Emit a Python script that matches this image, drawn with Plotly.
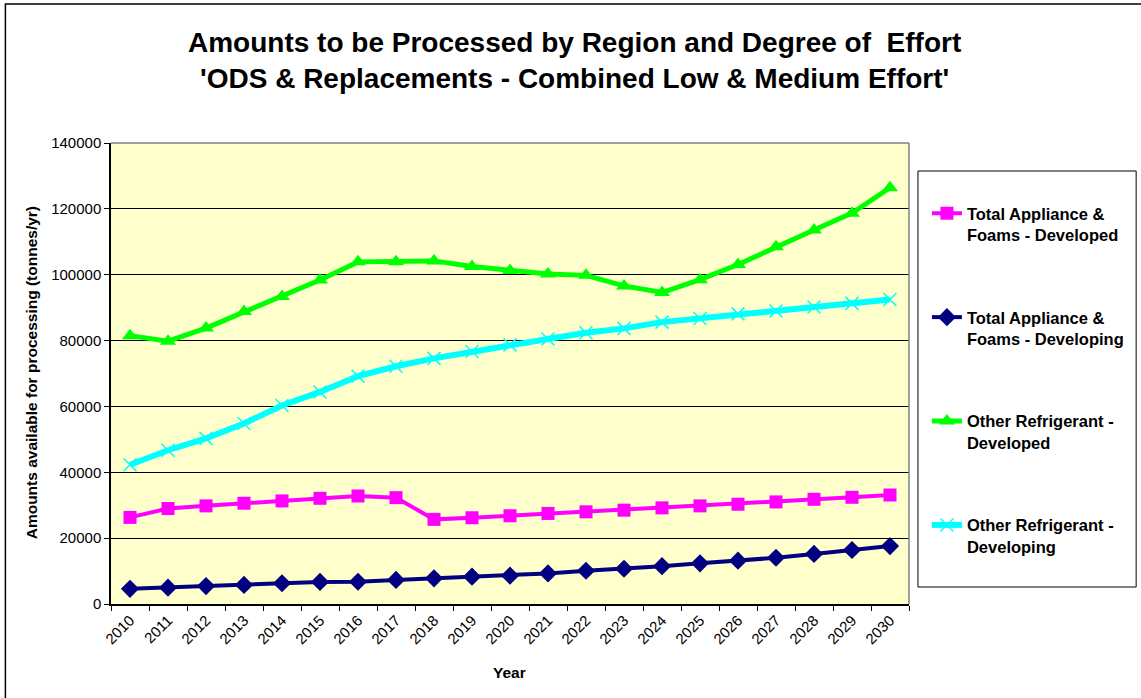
import plotly.graph_objects as go

years = [str(y) for y in range(2010, 2031)]

appliance_developed = [26300, 29000, 29800, 30600, 31300, 32100, 32800, 32300, 25700, 26200,
                       26800, 27500, 28000, 28500, 29200, 29800, 30300, 31000, 31800, 32400, 33100]
appliance_developing = [4600, 4950, 5450, 5800, 6300, 6700, 6750, 7300, 7800, 8300,
                        8600, 9300, 10100, 10700, 11500, 12350, 13150, 14050, 15200, 16400, 17600]
refrig_developed = [81500, 79800, 83800, 88800, 93400, 98400, 103900, 103900, 104200, 102500,
                    101300, 100200, 99800, 96600, 94600, 98500, 103100, 108500, 113600, 118700, 126400]
refrig_developing = [42300, 46700, 50300, 54800, 60300, 64400, 69200, 72200, 74600, 76700,
                     78700, 80500, 82400, 83700, 85600, 86700, 88100, 89000, 90200, 91300, 92500]

names = ["<b>Total Appliance &<br>Foams - Developed</b>",
         "<b>Total Appliance &<br>Foams - Developing</b>",
         "<b>Other Refrigerant -<br>Developed</b>",
         "<b>Other Refrigerant -<br>Developing</b>"]

FONT = "Arial, Liberation Sans, sans-serif"

L, R, T, B = 111, 912, 143, 604
W, H = 1141, 698
PW, PH = R - L, B - T

def px(x):
    return (x - L) / PW

def py(y):
    return (B - y) / PH

fig = go.Figure()
fig.add_trace(go.Scatter(x=years, y=appliance_developed, name=names[0], mode="lines+markers",
                         legendgroup="a",
                         line=dict(color="#FF00FF", width=4),
                         marker=dict(symbol="square", size=13, color="#FF00FF")))
fig.add_trace(go.Scatter(x=years, y=appliance_developing, name=names[1], mode="lines+markers",
                         legendgroup="b",
                         line=dict(color="#000080", width=4),
                         marker=dict(symbol="diamond", size=14, color="#000080")))
fig.add_trace(go.Scatter(x=years, y=refrig_developed, name=names[2], mode="lines+markers",
                         legendgroup="c",
                         line=dict(color="#00FF00", width=5),
                         marker=dict(symbol="triangle-up", size=14, color="#00FF00")))
fig.add_trace(go.Scatter(x=years, y=refrig_developing, name=names[3], mode="lines+markers",
                         legendgroup="d",
                         line=dict(color="#00FFFF", width=6),
                         marker=dict(symbol="x-thin-open", size=13, color="#00FFFF",
                                     line=dict(color="#00FFFF", width=1.5))))

shapes = [
    dict(type="rect", xref="paper", yref="paper", x0=px(5), x1=px(1160), y0=py(4), y1=py(720),
         line=dict(color="#000000", width=1.5), fillcolor="rgba(0,0,0,0)", layer="above"),
    dict(type="line", xref="paper", yref="paper", x0=0, x1=1, y0=1, y1=1,
         line=dict(color="#808080", width=1.5), layer="above"),
    dict(type="line", xref="paper", yref="paper", x0=1, x1=1, y0=0, y1=1,
         line=dict(color="#808080", width=1.5), layer="above"),
    dict(type="rect", xref="paper", yref="paper", x0=px(921), x1=px(1140), y0=py(587), y1=py(171),
         line=dict(color="#000000", width=1), fillcolor="#FFFFFF", layer="below"),
]

annotations = [
    dict(text="<b>Amounts to be Processed by Region and Degree of  Effort<br>'ODS & Replacements - Combined Low & Medium Effort'</b>",
         xref="paper", yref="paper", x=px(576), y=py(60), xanchor="center", yanchor="middle",
         showarrow=False, font=dict(family=FONT, size=28, color="#000000")),
    dict(text="<b>Year</b>", xref="paper", yref="paper", x=px(511), y=py(672),
         xanchor="center", yanchor="middle", showarrow=False,
         font=dict(family=FONT, size=15.5, color="#000000")),
    dict(text="<b>Amounts available for processing (tonnes/yr)</b>", xref="paper", yref="paper",
         x=px(31), y=py(373), xanchor="center", yanchor="middle", textangle=-90, showarrow=False,
         font=dict(family=FONT, size=15.5, color="#000000")),
]

fig.update_layout(
    width=W, height=H,
    margin=dict(l=L, r=W - R, t=T, b=H - B, pad=0),
    paper_bgcolor="#FFFFFF",
    plot_bgcolor="#FFFFCC",
    font=dict(family=FONT, size=15, color="#000000"),
    showlegend=True,
    legend=dict(x=px(930), y=py(196), xanchor="left", yanchor="top",
                bgcolor="rgba(0,0,0,0)", borderwidth=0,
                font=dict(family=FONT, size=16.5, color="#000000"),
                tracegroupgap=58, valign="top", itemwidth=30),
    shapes=shapes,
    annotations=annotations,
)

fig.update_xaxes(type="category", range=[-0.5, 20.5], tickson="boundaries",
                 ticks="outside", ticklen=5, tickcolor="#000000", tickwidth=1,
                 tickangle=-45, showgrid=False, showline=True, linecolor="#000000", linewidth=1.5,
                 tickfont=dict(family=FONT, size=15, color="#000000"), zeroline=False)
fig.update_yaxes(range=[0, 140000], dtick=20000, tickformat="d",
                 ticks="outside", ticklen=5, tickcolor="#000000", tickwidth=1,
                 showgrid=True, gridcolor="#000000", gridwidth=1,
                 showline=True, linecolor="#000000", linewidth=1.5, zeroline=False,
                 tickfont=dict(family=FONT, size=15, color="#000000"))

fig.write_html("out.html", config={"displayModeBar": False},
               post_script="document.body.style.margin='0';document.body.style.padding='0';")
